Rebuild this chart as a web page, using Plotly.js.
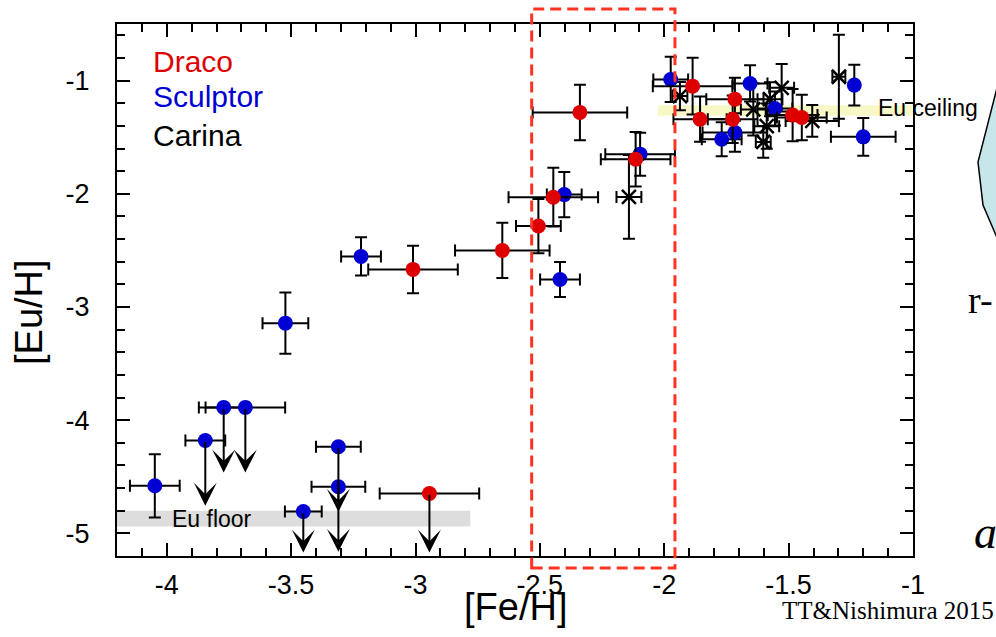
<!DOCTYPE html>
<html><head><meta charset="utf-8">
<script src="https://cdn.plot.ly/plotly-3.0.1.min.js"></script>
<style>html,body{margin:0;padding:0;background:#fff}#chart{width:996px;height:637px}</style>
</head><body><div id="chart"></div>
<script>
// ---------- data ----------
const dracoFeH  = [-2.339, -2.446, -2.506, -2.651, -3.010, -2.115, -1.886, -1.716, -1.856, -1.725, -1.484, -1.447];
const dracoEuH  = [-1.281, -2.030, -2.285, -2.500, -2.668, -1.695, -1.049, -1.164, -1.341, -1.341, -1.305, -1.326];
const dracoXerr = [0.19, 0.18, 0.09, 0.19, 0.18, 0.14, 0.16, 0.115, 0.107, 0.10, 0.10, 0.10];
const dracoYerr = [0.245, 0.26, 0.24, 0.245, 0.21, 0.24, 0.25, 0.19, 0.20, 0.21, 0.23, 0.20];

const dracoUlFeH  = [-2.944];
const dracoUlEuH  = [-4.648];
const dracoUlXerr = [0.20];

const sculptorFeH  = [-4.048, -3.523, -3.219, -2.402, -2.419, -2.097, -1.974, -1.655, -1.555, -1.236, -1.200, -1.769, -1.716];
const sculptorEuH  = [-4.580, -3.143, -2.553, -2.007, -2.757, -1.650, -0.990, -1.025, -1.246, -1.040, -1.497, -1.518, -1.459];
const sculptorXerr = [0.10, 0.092, 0.08, 0.07, 0.08, 0.14, 0.07, 0.07, 0.07, 0.0, 0.13, 0.08, 0.13];
const sculptorYerr = [0.28, 0.27, 0.17, 0.20, 0.155, 0.19, 0.20, 0.16, 0.15, 0.18, 0.167, 0.15, 0.17];

const sculptorUlFeH  = [-3.845, -3.771, -3.684, -3.451, -3.310, -3.310];
const sculptorUlEuH  = [-4.180, -3.887, -3.887, -4.807, -4.235, -4.588];
const sculptorUlXerr = [0.08, 0.10, 0.16, 0.074, 0.09, 0.108];

const carinaFeH  = [-2.142, -1.937, -1.642, -1.575, -1.528, -1.588, -1.602, -1.405, -1.298];
const carinaEuH  = [-2.028, -1.137, -1.255, -1.164, -1.064, -1.403, -1.542, -1.356, -0.966];
const carinaXerr = [0.05, 0.03, 0.05, 0.05, 0.05, 0.05, 0.03, 0.107, 0.026];
const carinaYerr = [0.37, 0.125, 0.23, 0.15, 0.21, 0.20, 0.14, 0.14, 0.37];

const xTickVals = [-4, -3.5, -3, -2.5, -2, -1.5, -1];
const xTickText = ['-4', '-3.5', '-3', '-2.5', '-2', '-1.5', '-1'];
const yTickVals = [-5, -4, -3, -2, -1];
const yTickText = ['-5', '-4', '-3', '-2', '-1'];

const euFloor   = {x0: -4.2, x1: -2.78, y0: -4.94, y1: -4.80};
const euCeiling = {x0: -2.025, x1: -1.0, y0: -1.311, y1: -1.217};
const selection = {x0: -2.533, x1: -1.957};

// ---------- styling ----------
const RED = '#de0000', BLUE = '#0000d2';
const L = 117, R = 913, T = 24, B = 556;
const px = v => (v - L) / (R - L);
const py = v => (B - v) / (B - T);
const errStyle = (arr) => ({type: 'data', array: arr, visible: true, color: 'black', thickness: 2, width: 6});
const FONT = 'Liberation Sans, Arial, Helvetica, sans-serif';
const SERIF = 'Liberation Serif, Times New Roman, serif';

function circles(x, y, xe, ye, color) {
  const t = {x: x, y: y, type: 'scatter', mode: 'markers', showlegend: false, cliponaxis: false,
    marker: {symbol: 'circle', size: 15, color: color, line: {width: 0}},
    error_x: errStyle(xe)};
  if (ye) t.error_y = errStyle(ye);
  return t;
}

const traces = [
  circles(sculptorUlFeH, sculptorUlEuH, sculptorUlXerr, null, BLUE),
  circles(dracoUlFeH, dracoUlEuH, dracoUlXerr, null, RED),
  {x: carinaFeH, y: carinaEuH, type: 'scatter', mode: 'markers', showlegend: false,
   marker: {symbol: 'x-thin-open', size: 14, color: 'black', line: {width: 2.5, color: 'black'}},
   error_x: errStyle(carinaXerr), error_y: errStyle(carinaYerr)},
  circles(sculptorFeH, sculptorEuH, sculptorXerr, sculptorYerr, BLUE),
  circles(dracoFeH, dracoEuH, dracoXerr, dracoYerr, RED)
];

const yMin = -5.2, yMax = -0.5, ulDrop = 0.575;
const annotations = [];
function ulArrows(xs, ys) {
  xs.forEach((xv, i) => {
    annotations.push({x: xv, y: Math.max(ys[i] - ulDrop, yMin + 0.03), ax: xv, ay: ys[i],
      xref: 'x', yref: 'y', axref: 'x', ayref: 'y', text: '', showarrow: true,
      arrowhead: 3, arrowsize: 1.9, arrowwidth: 2, arrowcolor: 'black', standoff: 0, startstandoff: 0});
  });
}
ulArrows(sculptorUlFeH, sculptorUlEuH);
ulArrows(dracoUlFeH, dracoUlEuH);

const legendItems = [['Draco', RED, 61], ['Sculptor', BLUE, 97], ['Carina', 'black', 135]];
legendItems.forEach(([t, c, yy]) => annotations.push({xref: 'paper', yref: 'paper', x: px(151), y: py(yy),
  xanchor: 'left', yanchor: 'middle', text: t, showarrow: false, font: {family: FONT, size: 30, color: c}}));

annotations.push({xref: 'x', yref: 'y', x: -3.985, y: -4.87, xanchor: 'left', yanchor: 'middle',
  text: 'Eu floor', showarrow: false, font: {family: FONT, size: 23, color: 'black'}});
annotations.push({xref: 'x', yref: 'y', x: -1.148, y: -1.243, xanchor: 'left', yanchor: 'middle',
  text: 'Eu ceiling', showarrow: false, font: {family: FONT, size: 23, color: 'black'}});
annotations.push({xref: 'paper', yref: 'paper', x: px(780), y: py(610), xanchor: 'left', yanchor: 'middle',
  text: 'TT&amp;Nishimura 2015', showarrow: false, font: {family: SERIF, size: 25, color: 'black'}});
annotations.push({xref: 'paper', yref: 'paper', x: px(966), y: py(300), xanchor: 'left', yanchor: 'middle',
  text: 'r-', showarrow: false, font: {family: SERIF, size: 38, color: 'black'}});
annotations.push({xref: 'paper', yref: 'paper', x: px(972), y: py(532), xanchor: 'left', yanchor: 'middle',
  text: '<i>a</i>', showarrow: false, font: {family: SERIF, size: 46, color: 'black'}});
// axis titles
annotations.push({xref: 'paper', yref: 'paper', x: px(515), y: py(607), xanchor: 'center', yanchor: 'middle',
  text: '[Fe/H]', showarrow: false, font: {family: FONT, size: 38, color: 'black'}});
annotations.push({xref: 'paper', yref: 'paper', x: px(29), y: py(312), xanchor: 'center', yanchor: 'middle',
  textangle: -90, text: '[Eu/H]', showarrow: false, font: {family: FONT, size: 38, color: 'black'}});

const shapes = [
  {type: 'rect', xref: 'x', yref: 'y', layer: 'below', x0: euFloor.x0, x1: euFloor.x1, y0: euFloor.y0, y1: euFloor.y1,
   fillcolor: '#dcdddc', line: {width: 0}},
  {type: 'rect', xref: 'x', yref: 'y', layer: 'below', x0: euCeiling.x0, x1: euCeiling.x1, y0: euCeiling.y0, y1: euCeiling.y1,
   fillcolor: '#f8f8c6', line: {width: 0}},
  {type: 'rect', xref: 'x', yref: 'paper', layer: 'above', x0: selection.x0, x1: selection.x1, y0: py(568), y1: py(9),
   line: {color: '#ff3322', width: 3, dash: '11px,6px'}},
  {type: 'path', xref: 'paper', yref: 'paper', layer: 'above',
   path: 'M ' + px(998) + ' ' + py(84) + ' L ' + px(978) + ' ' + py(162) + ' L ' + px(983) + ' ' + py(205) + ' L ' + px(998) + ' ' + py(240) + ' Z',
   fillcolor: '#c6e6ea', line: {color: 'black', width: 1.5}}
];

const axisCommon = {
  showline: true, linecolor: 'black', linewidth: 2, mirror: 'ticks', showgrid: false, zeroline: false,
  ticks: 'inside', ticklen: 13, tickwidth: 2, tickcolor: 'black',
  tickfont: {family: FONT, size: 27, color: 'black'}
};

const layout = {
  width: 996, height: 637, margin: {l: L, r: 996 - R, t: T, b: 637 - B},
  paper_bgcolor: 'white', plot_bgcolor: 'white', showlegend: false,
  xaxis: Object.assign({}, axisCommon, {range: [-4.2, -1], tickmode: 'array', tickvals: xTickVals, ticktext: xTickText,
    minor: {dtick: 0.1, tick0: -4.2, ticks: 'inside', ticklen: 8, tickwidth: 2, tickcolor: 'black', showgrid: false},
    ticklabelstandoff: 4}),
  yaxis: Object.assign({}, axisCommon, {range: [yMin, yMax], tickmode: 'array', tickvals: yTickVals, ticktext: yTickText,
    minor: {dtick: 0.2, tick0: -5.2, ticks: 'inside', ticklen: 8, tickwidth: 2, tickcolor: 'black', showgrid: false},
    ticklabelstandoff: 20}),
  shapes: shapes, annotations: annotations
};

Plotly.newPlot('chart', traces, layout, {displayModeBar: false, staticPlot: true});
</script></body></html>
